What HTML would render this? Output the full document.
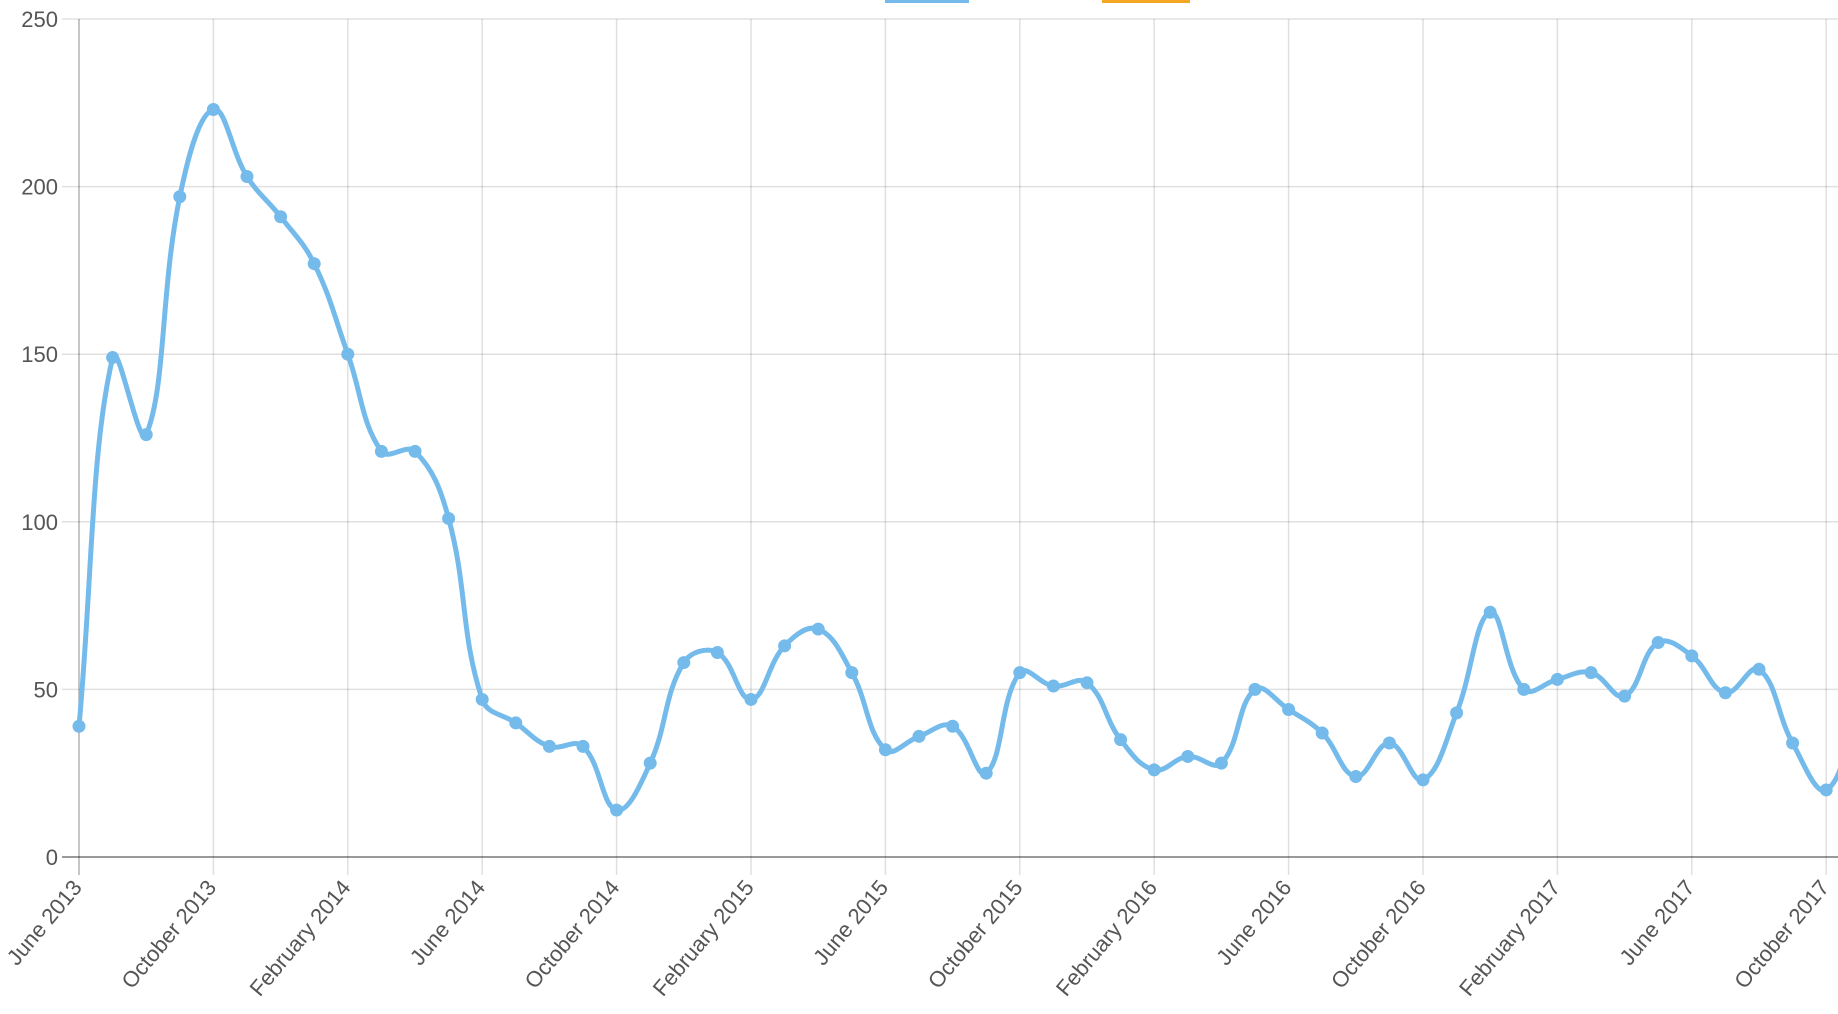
<!DOCTYPE html>
<html><head><meta charset="utf-8"><style>
html,body{margin:0;padding:0;background:#fff;}
svg{display:block;font-family:"Liberation Sans",sans-serif;}
</style></head><body>
<svg id="c" width="1838" height="1014" xmlns="http://www.w3.org/2000/svg">
<rect x="885" y="0" width="84" height="3" fill="#74bbec"/>
<rect x="1102" y="0" width="88" height="3" fill="#f5a623"/>
<g id="grid"></g>
<path id="line" fill="none" stroke="#74bbec" stroke-width="5"/>
<g id="pts" fill="#74bbec"></g>
</svg>
<script>
const ns="http://www.w3.org/2000/svg";
const X0=79,MW=33.6,Y0=857,YS=167.6/50;
const g=document.getElementById('grid');
function el(t,a,p,txt){const e=document.createElementNS(ns,t);for(const k in a)e.setAttribute(k,a[k]);if(txt!==undefined)e.textContent=String(txt);p.appendChild(e);return e;}
for(let v=0;v<=250;v+=50){const y=Y0-v*YS;
 el('line',{x1:62,x2:1838,y1:y,y2:y,stroke:v==0?'rgba(0,0,0,0.4)':'rgba(0,0,0,0.12)','stroke-width':v==0?2:1.5},g);
 el('text',{x:58,y:y+8,'text-anchor':'end','font-size':22,fill:'#555'},g,v);}
const labs=["June 2013","October 2013","February 2014","June 2014","October 2014","February 2015","June 2015","October 2015","February 2016","June 2016","October 2016","February 2017","June 2017","October 2017"];
labs.forEach((l,i)=>{const x=X0+i*4*MW;
 el('line',{x1:x,x2:x,y1:19,y2:875,stroke:i==0?'rgba(0,0,0,0.3)':'rgba(0,0,0,0.12)','stroke-width':1.5},g);
 const tx=x+4,ty=888;
 el('text',{x:tx,y:ty,'text-anchor':'end','font-size':22,fill:'#555',transform:`rotate(-50 ${tx} ${ty})`},g,l);});
const d=[39,149,126,197,223,203,191,177,150,121,121,101,47,40,33,33,14,28,58,61,47,63,68,55,32,36,39,25,55,51,52,35,26,30,28,50,44,37,24,34,23,43,73,50,53,55,48,64,60,49,56,34,20,45];
const P=d.map((v,i)=>[X0+i*MW,Y0-v*YS]);
const t=0.4,cp=[];
for(let i=0;i<P.length;i++){const p=P[Math.max(i-1,0)],c=P[i],n=P[Math.min(i+1,P.length-1)];
 const d01=Math.hypot(c[0]-p[0],c[1]-p[1]),d12=Math.hypot(n[0]-c[0],n[1]-c[1]);
 let fa=d01/(d01+d12)||0,fb=d12/(d01+d12)||0;fa*=t;fb*=t;
 cp.push([[c[0]-fa*(n[0]-p[0]),c[1]-fa*(n[1]-p[1])],[c[0]+fb*(n[0]-p[0]),c[1]+fb*(n[1]-p[1])]]);}
let s=`M${P[0][0]},${P[0][1]}`;
for(let i=1;i<P.length;i++){s+=` C${cp[i-1][1][0]},${cp[i-1][1][1]} ${cp[i][0][0]},${cp[i][0][1]} ${P[i][0]},${P[i][1]}`;}
document.getElementById('line').setAttribute('d',s);
const pg=document.getElementById('pts');
P.forEach(p=>el('circle',{cx:p[0],cy:p[1],r:6.5},pg));
</script>
</body></html>
